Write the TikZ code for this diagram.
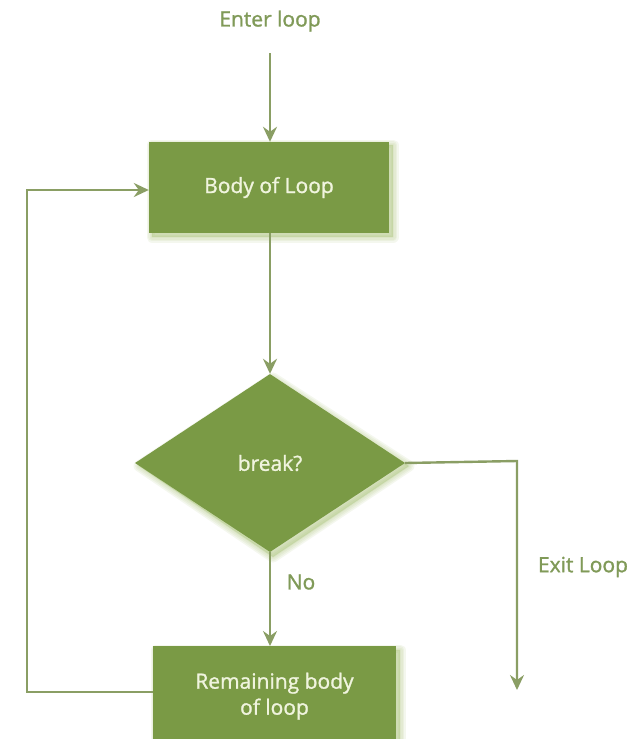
\documentclass[tikz,border=0pt]{standalone}
\usepackage{fontspec}
\setmainfont{Open Sans}
\newfontfamily\medfont{Open Sans}[RawFeature={embolden=1.2}]
\usetikzlibrary{arrows.meta,shapes.geometric}
\definecolor{boxgreen}{RGB}{122,154,69}
\definecolor{linegreen}{RGB}{138,158,100}
\definecolor{labelgreen}{RGB}{128,154,88}
\definecolor{boxtext}{RGB}{240,244,222}
\definecolor{glow}{RGB}{170,196,120}
\tikzset{
  flowbox/.style={fill=boxgreen, draw=none, text=boxtext, font=\medfont\fontsize{21}{26}\selectfont, align=center},
  glowshape/.style={draw=glow, fill=glow, line join=round, opacity=0.12},
  flowline/.style={draw=linegreen, line width=2.4pt, -{Stealth[length=15pt,width=14pt,inset=5pt]}},
  lbl/.style={text=labelgreen, font=\medfont\fontsize{21}{26}\selectfont}
}
\begin{document}
\begin{tikzpicture}[x=1pt,y=-1pt]
\useasboundingbox (0,0) rectangle (639,739);
\fill[white] (0,0) rectangle (639,739);
% soft glows (bottom-right)
\foreach \w in {2,5,8,11}{
  \draw[glowshape, line width=\w pt] (152,145) rectangle (393,237);
  \draw[glowshape, line width=\w pt] (273,378) -- (409,466) -- (273,557) -- (139,466) -- cycle;
  \draw[glowshape, line width=\w pt] (156,650) rectangle (400,760);
}
\node[lbl] (enter) at (270,21) {Enter loop};
\coordinate (enterstart) at (270,53);
\node[flowbox, minimum width=240pt, minimum height=91pt] (body) at (269,187.5) {Body of Loop};
\node[flowbox, diamond, minimum width=270pt, minimum height=178pt, inner sep=0pt, aspect=1.52] (brk) at (270,463) {break?};
\node[flowbox, minimum width=243pt, minimum height=100pt, anchor=north] (rem) at (274.5,646) {Remaining body\\of loop};
\node[lbl] (no) at (301,582) {No};
\node[lbl] (exit) at (583,567) {Exit Loop};
\coordinate (exitcorner) at (517,461);
\coordinate (exitend) at (517,690);
\coordinate (loopbl) at (27,692);
\coordinate (looptl) at (27,190);
\draw[flowline] (enterstart) -- (body.north -| enterstart);
\draw[flowline] (body.south -| brk.north) -- (brk.north);
\draw[flowline] (brk.south) -- (brk.south |- rem.north);
\draw[flowline] (brk.east) -- (exitcorner) -- (exitend);
\draw[flowline] (rem.west |- loopbl) -- (loopbl) -- (looptl) -- (body.west |- looptl);
\end{tikzpicture}
\end{document}
